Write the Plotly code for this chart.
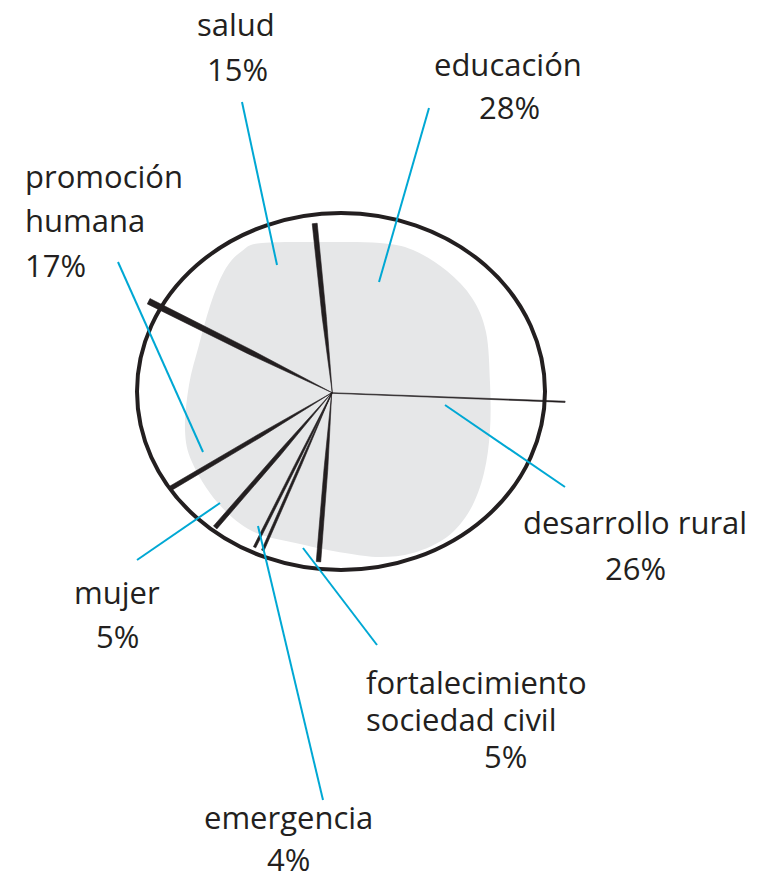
import numpy as np
import plotly.graph_objects as go

# ---------------- data ----------------
categories = ["educación", "salud", "promoción humana", "mujer", "emergencia",
              "fortalecimiento sociedad civil", "desarrollo rural"]
values = [28, 15, 17, 5, 4, 5, 26]
label_lines = [["educación"], ["salud"], ["promoción", "humana"], ["mujer"],
               ["emergencia"], ["fortalecimiento", "sociedad civil"], ["desarrollo rural"]]

# ---------------- style / layout ----------------
W, H = 773, 876
OFF = 8                                       # page body margin
CX, CY, RX, RY = 341, 391.5, 204, 178.5      # outer ellipse
HUB = (332.0, 393.0)                          # where the spokes meet
START_DEG = -3.0                              # first boundary, counter-clockwise
TEXT_COLOR = "#231f20"
LEADER_COLOR = "#00a8d4"
BLOB_COLOR = "#e6e7e8"
FONT = "Open Sans"
FS = 31

# spoke k = boundary after k slices (0 = start line)
spoke_width = [1.2, 5.0, 6.0, 4.5, 4.5, 2.6, 4.5]
spoke_reach = [1.10, 0.95, 1.07, 1.0, 0.98, 0.97, 0.96]
spoke_double = [0, 0, 0, 0, 0, 1.3, 0]       # angular split (deg) for doubled stroke

label_pos = {
    "educación": dict(lines=[(508, 75, "center")], pct=(509, 118, "center"),
                      leader=((429, 108), (379, 282))),
    "salud": dict(lines=[(236, 35, "center")], pct=(237, 80, "center"),
                  leader=((242, 102), (277, 265))),
    "promoción humana": dict(lines=[(24, 187, "left"), (24, 231, "left")], pct=(24, 276, "left"),
                             leader=((118, 262), (203, 452))),
    "mujer": dict(lines=[(117, 603, "center")], pct=(117, 647, "center"),
                  leader=((137, 560), (220, 503))),
    "emergencia": dict(lines=[(288, 828, "center")], pct=(288, 870, "center"),
                       leader=((323, 800), (258, 526))),
    "fortalecimiento sociedad civil": dict(lines=[(365, 693, "left"), (365, 730, "left")],
                                           pct=(505, 767, "center"),
                                           leader=((377, 645), (303, 548))),
    "desarrollo rural": dict(lines=[(635, 533, "center")], pct=(635, 579, "center"),
                             leader=((565, 487), (445, 405))),
}

blob_pts = [(262, 243), (330, 242), (380, 243), (413, 250), (447, 271), (472, 298), (486, 332),
            (490, 383), (490, 430), (484, 473), (470, 510), (447, 537), (413, 553), (380, 557),
            (345, 553), (300, 544), (252, 531), (217, 502), (192, 462), (185, 430), (189, 385),
            (199, 345), (212, 300), (226, 268), (242, 251)]


def smooth_closed_path(pts):
    n = len(pts)
    p = [np.array(q, float) for q in pts]
    d = f"M {p[0][0]:.1f},{p[0][1]:.1f} "
    for i in range(n):
        p0, p1, p2, p3 = p[i - 1], p[i], p[(i + 1) % n], p[(i + 2) % n]
        c1 = p1 + (p2 - p0) / 6
        c2 = p2 - (p3 - p1) / 6
        d += f"C {c1[0]:.1f},{c1[1]:.1f} {c2[0]:.1f},{c2[1]:.1f} {p2[0]:.1f},{p2[1]:.1f} "
    return d + "Z"


def spoke_polygon(t_deg, w, reach):
    t = np.radians(t_deg)
    ex = CX + reach * RX * np.cos(t)
    ey = CY - reach * RY * np.sin(t)
    hx, hy = HUB
    dx, dy = ex - hx, ey - hy
    L = np.hypot(dx, dy)
    nx, ny = -dy / L, dx / L
    mx, my = hx + dx * 0.45, hy + dy * 0.45
    xs = [hx + nx * 0.3, mx + nx * w * 0.42, ex + nx * w / 2, ex - nx * w / 2,
          mx - nx * w * 0.42, hx - nx * 0.3, hx + nx * 0.3]
    ys = [hy + ny * 0.3, my + ny * w * 0.42, ey + ny * w / 2, ey - ny * w / 2,
          my - ny * w * 0.42, hy - ny * 0.3, hy + ny * 0.3]
    return xs, ys


total = float(sum(values))
bounds = START_DEG + 360.0 * np.concatenate([[0.0], np.cumsum(values)]) / total

fig = go.Figure()
for k, ang in enumerate(bounds[:-1]):
    offs = [0.0] if spoke_double[k] == 0 else [-spoke_double[k], spoke_double[k]]
    for o in offs:
        xs, ys = spoke_polygon(ang + o, spoke_width[k], spoke_reach[k])
        fig.add_trace(go.Scatter(x=xs, y=ys, mode="lines", fill="toself",
                                 fillcolor=TEXT_COLOR, line=dict(color=TEXT_COLOR, width=0.6),
                                 hoverinfo="skip", showlegend=False))

shapes = [
    dict(type="path", path=smooth_closed_path(blob_pts), fillcolor=BLOB_COLOR,
         line=dict(width=0), layer="below", xref="x", yref="y"),
    dict(type="circle", x0=CX - RX, x1=CX + RX, y0=CY - RY, y1=CY + RY,
         line=dict(color=TEXT_COLOR, width=4), fillcolor="rgba(0,0,0,0)",
         layer="below", xref="x", yref="y"),
]

annotations = []
for cat, val, lines in zip(categories, values, label_lines):
    pos = label_pos[cat]
    (x0, y0), (x1, y1) = pos["leader"]
    shapes.append(dict(type="line", x0=x0, y0=y0, x1=x1, y1=y1, xref="x", yref="y",
                       line=dict(color=LEADER_COLOR, width=2), layer="above"))
    items = list(zip(lines, pos["lines"])) + [(f"{val}%", pos["pct"])]
    for txt, (x, base, anchor) in items:
        annotations.append(dict(x=x, y=base - 0.35 * FS, xref="x", yref="y", text=txt,
                                showarrow=False, xanchor=anchor, yanchor="middle",
                                font=dict(family=FONT, size=FS, color=TEXT_COLOR),
                                borderpad=0))

fig.update_layout(
    width=W - OFF, height=H - OFF, margin=dict(l=0, r=0, t=0, b=0),
    paper_bgcolor="white", plot_bgcolor="white", showlegend=False,
    xaxis=dict(range=[OFF, W], visible=False, fixedrange=True),
    yaxis=dict(range=[H, OFF], visible=False, fixedrange=True),
    shapes=shapes, annotations=annotations,
)
fig.write_html("out.html")
